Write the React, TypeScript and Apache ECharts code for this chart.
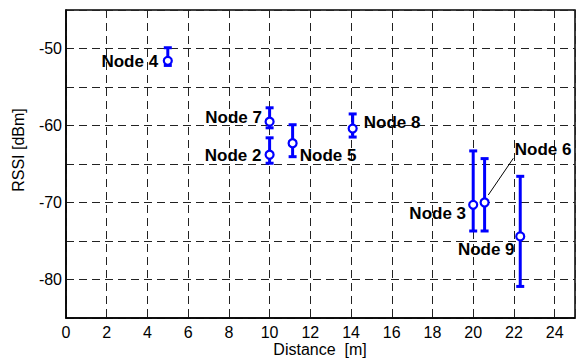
import React, { useEffect, useRef } from "react";
import * as echarts from "echarts";

const nodeNames = ["Node 4", "Node 7", "Node 2", "Node 5", "Node 8", "Node 3", "Node 6", "Node 9"];
const distances = [5, 10, 10, 11.13, 14.08, 20, 20.56, 22.31];
const rssiMean = [-51.6, -59.5, -63.8, -62.3, -60.4, -70.3, -70.0, -74.4];
const rssiLow = [-52.2, -60.3, -64.9, -64.05, -61.5, -73.7, -73.7, -80.9];
const rssiHigh = [-49.9, -57.7, -61.6, -59.9, -58.5, -63.3, -64.3, -66.6];
const xTitle = "Distance  [m]";
const yTitle = "RSSI [dBm]";

// label placement (pixel offsets from marker centre)
const labelOffsets: Record<string, [number, number]> = {
  "Node 4": [-38, 1],
  "Node 7": [-36, -4.5],
  "Node 2": [-36.5, 0.5],
  "Node 5": [35.5, 12],
  "Node 8": [39.5, -6],
  "Node 3": [-35.5, 9],
  "Node 6": [58.5, -53],
  "Node 9": [-34, 13.5],
};
// arrow annotation for Node 6 (data coordinates)
const arrowStart = [21.97, -64.26];
const arrowEnd = [20.74, -69.03];

const FONT = "'Liberation Sans', Arial, Helvetica, sans-serif";
const BLUE = "#0000ff";

export default function App() {
  const ref = useRef<HTMLDivElement>(null);
  useEffect(() => {
    if (!ref.current) return;
    const chart = echarts.init(ref.current, undefined, { renderer: "svg" });
    const errData = distances.map((d, i) => [d, rssiLow[i], rssiHigh[i]]);
    const ptData = distances.map((d, i) => ({
      value: [d, rssiMean[i]],
      name: nodeNames[i],
      label: { offset: labelOffsets[nodeNames[i]] },
    }));
    const dash = { color: "#222", width: 1, type: [8, 5] as any };
    chart.setOption({
      animation: false,
      backgroundColor: "#fff",
      grid: {
        left: 66,
        top: 10,
        right: 2,
        bottom: 40,
        show: true,
        borderColor: "#000",
        borderWidth: 1.5,
        outerBoundsMode: "none",
      },
      graphic: [
        {
          type: "text",
          x: 320,
          y: 349,
          style: {
            text: xTitle,
            fontFamily: FONT,
            fontSize: 16,
            fill: "#000",
            textAlign: "center",
            textVerticalAlign: "middle",
          },
        },
        {
          type: "text",
          x: 18,
          y: 150,
          rotation: Math.PI / 2,
          style: {
            text: yTitle,
            fontFamily: FONT,
            fontSize: 16,
            fill: "#000",
            textAlign: "center",
            textVerticalAlign: "middle",
          },
        },
      ],
      xAxis: {
        type: "value",
        min: 0,
        max: 25,
        interval: 2,
        axisLine: { show: true, onZero: false, lineStyle: { color: "#000", width: 1.5 } },
        axisTick: { show: false },
        axisLabel: {
          fontFamily: FONT,
          fontSize: 16,
          color: "#000",
          margin: 6,
          formatter: (v: number) => (v > 24 ? "" : String(v)),
        },
        splitLine: { show: true, lineStyle: dash },
      },
      yAxis: {
        type: "value",
        min: -85,
        max: -45,
        interval: 5,
        axisLine: { show: true, onZero: false, lineStyle: { color: "#000", width: 1.5 } },
        axisTick: { show: false },
        axisLabel: {
          fontFamily: FONT,
          fontSize: 16,
          color: "#000",
          margin: 4,
          formatter: (v: number) => (v % 10 === 0 ? String(v) : ""),
        },
        splitLine: { show: true, lineStyle: dash },
      },
      series: [
        {
          type: "custom",
          data: errData,
          silent: true,
          z: 3,
          renderItem: (params: any, api: any) => {
            const x = api.value(0);
            const lo = api.coord([x, api.value(1)]);
            const hi = api.coord([x, api.value(2)]);
            const cw = 4;
            const style = { stroke: BLUE, lineWidth: 3 };
            return {
              type: "group",
              children: [
                { type: "line", shape: { x1: lo[0], y1: lo[1], x2: hi[0], y2: hi[1] }, style },
                { type: "line", shape: { x1: lo[0] - cw, y1: lo[1], x2: lo[0] + cw, y2: lo[1] }, style },
                { type: "line", shape: { x1: hi[0] - cw, y1: hi[1], x2: hi[0] + cw, y2: hi[1] }, style },
              ],
            };
          },
        },
        {
          type: "scatter",
          data: ptData,
          symbol: "circle",
          symbolSize: 8,
          z: 4,
          itemStyle: { color: "#fff", borderColor: BLUE, borderWidth: 2.2, opacity: 1 },
          label: {
            show: true,
            position: "inside",
            formatter: "{b}",
            color: "#000",
            fontFamily: FONT,
            fontSize: 17,
            fontWeight: "bold",
          },
          emphasis: { disabled: true },
          markLine: {
            silent: true,
            animation: false,
            symbol: ["none", "arrow"],
            symbolSize: [0, 10],
            label: { show: false },
            lineStyle: { color: "#000", width: 1, type: "solid" },
            data: [[{ coord: arrowStart }, { coord: arrowEnd }]],
          },
        },
      ],
    });
    return () => chart.dispose();
  }, []);
  return <div ref={ref} style={{ width: 577, height: 358, position: "absolute", left: 0, top: 0 }} />;
}
